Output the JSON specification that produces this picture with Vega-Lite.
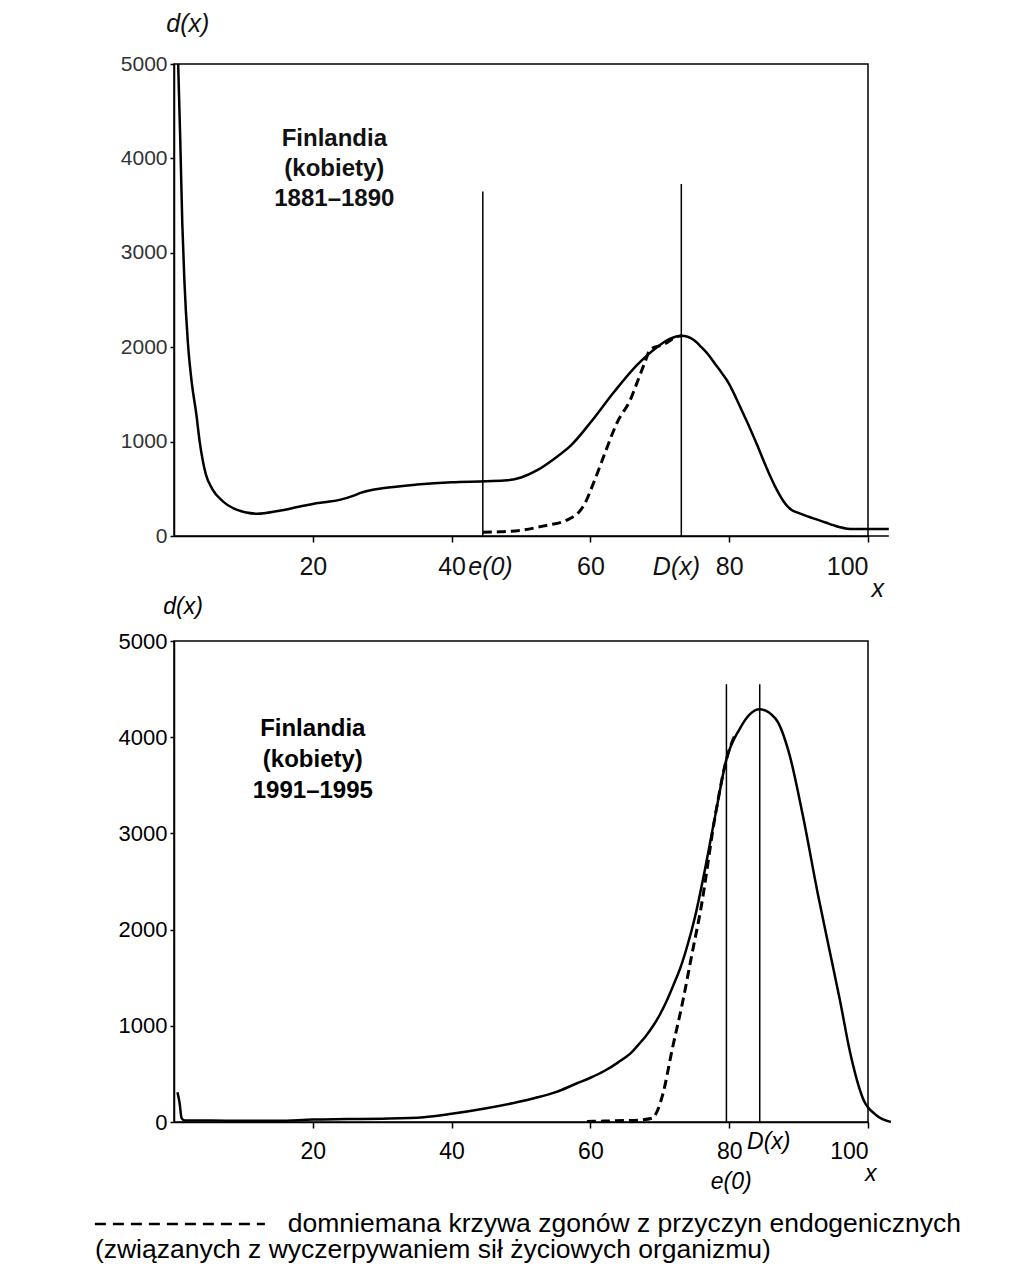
{
  "$schema": "https://vega.github.io/schema/vega-lite/v6.json",
  "background": "white",
  "padding": {"left": 92, "top": 11, "right": 10, "bottom": 10},
  "bounds": "flush",
  "spacing": 105,
  "config": {
    "view": {"stroke": "black", "strokeWidth": 1.5},
    "font": "Liberation Sans",
    "axis": {"domainColor": "black", "domainWidth": 1.5, "tickColor": "black", "tickWidth": 1.5, "tickSize": 6, "labelColor": "#111", "labelFont": "Liberation Sans", "grid": false, "title": null}
  },
  "datasets": {
    "top_solid": [
      {"age": 0.6, "d": 5000}, {"age": 0.9, "d": 4200}, {"age": 1.2, "d": 3300}, {"age": 1.5, "d": 2700}, {"age": 2.0, "d": 2050}, {"age": 2.6, "d": 1600}, {"age": 3.2, "d": 1300}, {"age": 3.7, "d": 1000}, {"age": 4.6, "d": 650}, {"age": 5.5, "d": 500}, {"age": 7, "d": 370}, {"age": 9, "d": 280}, {"age": 12, "d": 235}, {"age": 15, "d": 265}, {"age": 18, "d": 310}, {"age": 20, "d": 340}, {"age": 22, "d": 360}, {"age": 24, "d": 385}, {"age": 26, "d": 430}, {"age": 27, "d": 460}, {"age": 28, "d": 480}, {"age": 30, "d": 505}, {"age": 35, "d": 545}, {"age": 40, "d": 570}, {"age": 45, "d": 580}, {"age": 48, "d": 590}, {"age": 50, "d": 620}, {"age": 52.4, "d": 700}, {"age": 55, "d": 830}, {"age": 57.2, "d": 960}, {"age": 60.1, "d": 1210}, {"age": 63.4, "d": 1525}, {"age": 66.7, "d": 1810}, {"age": 69.6, "d": 2000}, {"age": 71.5, "d": 2090}, {"age": 73.1, "d": 2120}, {"age": 74, "d": 2110}, {"age": 75, "d": 2070}, {"age": 76, "d": 2000}, {"age": 77, "d": 1920}, {"age": 78, "d": 1820}, {"age": 79, "d": 1720}, {"age": 80, "d": 1610}, {"age": 81, "d": 1460}, {"age": 82, "d": 1300}, {"age": 83, "d": 1140}, {"age": 84, "d": 970}, {"age": 85, "d": 790}, {"age": 86, "d": 620}, {"age": 87, "d": 470}, {"age": 88, "d": 350}, {"age": 89, "d": 275}, {"age": 90, "d": 245}, {"age": 91, "d": 215}, {"age": 92, "d": 190}, {"age": 93, "d": 165}, {"age": 94, "d": 140}, {"age": 95, "d": 115}, {"age": 96, "d": 92}, {"age": 97, "d": 78}, {"age": 98, "d": 75}, {"age": 100, "d": 75}, {"age": 103, "d": 75}
    ],
    "top_dash": [
      {"age": 44.5, "d": 40}, {"age": 47, "d": 45}, {"age": 50, "d": 60}, {"age": 53.8, "d": 115}, {"age": 56, "d": 150}, {"age": 57.2, "d": 190}, {"age": 58.3, "d": 250}, {"age": 59.1, "d": 330}, {"age": 60.5, "d": 570}, {"age": 62, "d": 860}, {"age": 63.9, "d": 1210}, {"age": 65.8, "d": 1450}, {"age": 66.7, "d": 1620}, {"age": 67.7, "d": 1810}, {"age": 68.7, "d": 1980}, {"age": 70.6, "d": 2030}, {"age": 72.4, "d": 2110}, {"age": 73.1, "d": 2120}
    ],
    "bot_solid": [
      {"age": 0.5, "d": 310}, {"age": 0.8, "d": 200}, {"age": 1.1, "d": 40}, {"age": 1.6, "d": 15}, {"age": 5, "d": 15}, {"age": 10, "d": 12}, {"age": 15, "d": 12}, {"age": 20, "d": 25}, {"age": 25, "d": 30}, {"age": 30, "d": 35}, {"age": 36, "d": 50}, {"age": 40, "d": 85}, {"age": 44.8, "d": 140}, {"age": 49.7, "d": 210}, {"age": 52, "d": 250}, {"age": 55, "d": 310}, {"age": 58, "d": 400}, {"age": 60, "d": 460}, {"age": 62, "d": 530}, {"age": 64, "d": 620}, {"age": 66, "d": 730}, {"age": 67, "d": 810}, {"age": 68, "d": 895}, {"age": 69, "d": 995}, {"age": 70, "d": 1115}, {"age": 71, "d": 1260}, {"age": 72, "d": 1430}, {"age": 73, "d": 1610}, {"age": 74, "d": 1840}, {"age": 75, "d": 2110}, {"age": 76.3, "d": 2550}, {"age": 78, "d": 3190}, {"age": 79.6, "d": 3770}, {"age": 81.5, "d": 4085}, {"age": 83, "d": 4240}, {"age": 84.4, "d": 4290}, {"age": 86.7, "d": 4190}, {"age": 88.7, "d": 3815}, {"age": 90.6, "d": 3190}, {"age": 92.8, "d": 2360}, {"age": 94.5, "d": 1770}, {"age": 96, "d": 1250}, {"age": 97.4, "d": 730}, {"age": 99.3, "d": 240}, {"age": 101.2, "d": 70}, {"age": 103.3, "d": 0}
    ],
    "bot_dash": [
      {"age": 59.5, "d": 5}, {"age": 62, "d": 10}, {"age": 65, "d": 15}, {"age": 67, "d": 20}, {"age": 68.9, "d": 40}, {"age": 70.4, "d": 280}, {"age": 71.8, "d": 760}, {"age": 73.3, "d": 1250}, {"age": 74.7, "d": 1770}, {"age": 75.9, "d": 2210}, {"age": 78, "d": 3190}, {"age": 79.6, "d": 3770}, {"age": 81, "d": 4050}
    ],
    "top_rules": [{"age": 44.5, "bottom": 0, "top": 3650}, {"age": 73.1, "bottom": 0, "top": 3730}],
    "bot_rules": [{"age": 79.6, "bottom": 0, "top": 4550}, {"age": 84.4, "bottom": 0, "top": 4550}],
    "top_base": [{"from": 100, "to": 103, "d": 0}],
    "top_italic": [
      {"age": 2.0, "d": 5424, "t": "d(x)"},
      {"age": 45.6, "d": -330, "t": "e(0)"},
      {"age": 72.4, "d": -330, "t": "D(x)"},
      {"age": 101.4, "d": -560, "t": "x"}
    ],
    "bot_italic": [
      {"age": 1.3, "d": 5353, "t": "d(x)"},
      {"age": 80.3, "d": -624, "t": "e(0)"},
      {"age": 85.7, "d": -208, "t": "D(x)"},
      {"age": 100.4, "d": -540, "t": "x"}
    ],
    "top_title": [{"age": 23.1, "d": 4205, "t": "Finlandia\n(kobiety)\n1881–1890"}],
    "bot_title": [{"age": 20.0, "d": 4085, "t": "Finlandia\n(kobiety)\n1991–1995"}],
    "legend_rule": [{"from": -11.4, "to": 13.1, "d": -1060}],
    "legend_text": [
      {"age": 16.4, "d": -1060, "t": "domniemana krzywa zgonów z przyczyn endogenicznych"},
      {"age": -11.4, "d": -1330, "t": "(związanych z wyczerpywaniem sił życiowych organizmu)"}
    ]
  },
  "vconcat": [
    {
      "width": 694,
      "height": 472,
      "layer": [
        {
          "data": {"name": "top_solid"},
          "mark": {"type": "line", "color": "black", "strokeWidth": 2.5, "interpolate": "monotone"},
          "encoding": {
            "x": {"field": "age", "type": "quantitative", "scale": {"domain": [0, 100], "nice": false}, "axis": {"values": [20, 40, 60, 80, 100], "labelFontSize": 25, "labelPadding": 12, "labelColor": "#111"}},
            "y": {"field": "d", "type": "quantitative", "scale": {"domain": [0, 5000], "nice": false}, "axis": {"values": [0, 1000, 2000, 3000, 4000, 5000], "format": "d", "labelFontSize": 21, "labelPadding": 3, "tickSize": 4, "labelColor": "#333"}}
          }
        },
        {
          "data": {"name": "top_dash"},
          "mark": {"type": "line", "color": "black", "strokeWidth": 3, "strokeDash": [9, 5], "interpolate": "monotone"},
          "encoding": {
            "x": {"field": "age", "type": "quantitative", "scale": {"domain": [0, 100], "nice": false}},
            "y": {"field": "d", "type": "quantitative", "scale": {"domain": [0, 5000], "nice": false}}
          }
        },
        {
          "data": {"name": "top_rules"},
          "mark": {"type": "rule", "color": "black", "strokeWidth": 1.5},
          "encoding": {
            "x": {"field": "age", "type": "quantitative", "scale": {"domain": [0, 100], "nice": false}},
            "y": {"field": "bottom", "type": "quantitative", "scale": {"domain": [0, 5000], "nice": false}},
            "y2": {"field": "top"}
          }
        },
        {
          "data": {"name": "top_base"},
          "mark": {"type": "rule", "color": "black", "strokeWidth": 1.5},
          "encoding": {
            "x": {"field": "from", "type": "quantitative", "scale": {"domain": [0, 100], "nice": false}},
            "x2": {"field": "to"},
            "y": {"field": "d", "type": "quantitative", "scale": {"domain": [0, 5000], "nice": false}}
          }
        },
        {
          "data": {"name": "top_italic"},
          "mark": {"type": "text", "fontStyle": "italic", "fontSize": 25, "color": "#111", "align": "center", "baseline": "middle", "font": "Liberation Sans"},
          "encoding": {
            "x": {"field": "age", "type": "quantitative", "scale": {"domain": [0, 100], "nice": false}},
            "y": {"field": "d", "type": "quantitative", "scale": {"domain": [0, 5000], "nice": false}},
            "text": {"field": "t"}
          }
        },
        {
          "data": {"name": "top_title"},
          "mark": {"type": "text", "fontWeight": "bold", "fontSize": 24, "lineHeight": 30, "lineBreak": "\n", "color": "#111", "align": "center", "baseline": "middle", "font": "Liberation Sans"},
          "encoding": {
            "x": {"field": "age", "type": "quantitative", "scale": {"domain": [0, 100], "nice": false}},
            "y": {"field": "d", "type": "quantitative", "scale": {"domain": [0, 5000], "nice": false}},
            "text": {"field": "t"}
          }
        }
      ]
    },
    {
      "width": 694,
      "height": 481,
      "layer": [
        {
          "data": {"name": "bot_solid"},
          "mark": {"type": "line", "color": "black", "strokeWidth": 2.5, "interpolate": "monotone"},
          "encoding": {
            "x": {"field": "age", "type": "quantitative", "scale": {"domain": [0, 100], "nice": false}, "axis": {"values": [20, 40, 60, 80, 100], "labelFontSize": 23, "labelPadding": 12, "labelColor": "#000"}},
            "y": {"field": "d", "type": "quantitative", "scale": {"domain": [0, 5000], "nice": false}, "axis": {"values": [0, 1000, 2000, 3000, 4000, 5000], "format": "d", "labelFontSize": 22, "labelPadding": 3, "tickSize": 4, "labelColor": "#000"}}
          }
        },
        {
          "data": {"name": "bot_dash"},
          "mark": {"type": "line", "color": "black", "strokeWidth": 3, "strokeDash": [9, 5], "interpolate": "monotone"},
          "encoding": {
            "x": {"field": "age", "type": "quantitative", "scale": {"domain": [0, 100], "nice": false}},
            "y": {"field": "d", "type": "quantitative", "scale": {"domain": [0, 5000], "nice": false}}
          }
        },
        {
          "data": {"name": "bot_rules"},
          "mark": {"type": "rule", "color": "black", "strokeWidth": 1.5},
          "encoding": {
            "x": {"field": "age", "type": "quantitative", "scale": {"domain": [0, 100], "nice": false}},
            "y": {"field": "bottom", "type": "quantitative", "scale": {"domain": [0, 5000], "nice": false}},
            "y2": {"field": "top"}
          }
        },
        {
          "data": {"name": "bot_italic"},
          "mark": {"type": "text", "fontStyle": "italic", "fontSize": 23, "color": "#000", "align": "center", "baseline": "middle", "font": "Liberation Sans"},
          "encoding": {
            "x": {"field": "age", "type": "quantitative", "scale": {"domain": [0, 100], "nice": false}},
            "y": {"field": "d", "type": "quantitative", "scale": {"domain": [0, 5000], "nice": false}},
            "text": {"field": "t"}
          }
        },
        {
          "data": {"name": "bot_title"},
          "mark": {"type": "text", "fontWeight": "bold", "fontSize": 24, "lineHeight": 31, "lineBreak": "\n", "color": "#000", "align": "center", "baseline": "middle", "font": "Liberation Sans"},
          "encoding": {
            "x": {"field": "age", "type": "quantitative", "scale": {"domain": [0, 100], "nice": false}},
            "y": {"field": "d", "type": "quantitative", "scale": {"domain": [0, 5000], "nice": false}},
            "text": {"field": "t"}
          }
        },
        {
          "data": {"name": "legend_rule"},
          "mark": {"type": "rule", "color": "black", "strokeWidth": 2.5, "strokeDash": [11, 7]},
          "encoding": {
            "x": {"field": "from", "type": "quantitative", "scale": {"domain": [0, 100], "nice": false}},
            "x2": {"field": "to"},
            "y": {"field": "d", "type": "quantitative", "scale": {"domain": [0, 5000], "nice": false}}
          }
        },
        {
          "data": {"name": "legend_text"},
          "mark": {"type": "text", "fontSize": 26.5, "color": "#000", "align": "left", "baseline": "middle", "font": "Liberation Sans"},
          "encoding": {
            "x": {"field": "age", "type": "quantitative", "scale": {"domain": [0, 100], "nice": false}},
            "y": {"field": "d", "type": "quantitative", "scale": {"domain": [0, 5000], "nice": false}},
            "text": {"field": "t"}
          }
        }
      ]
    }
  ]
}
